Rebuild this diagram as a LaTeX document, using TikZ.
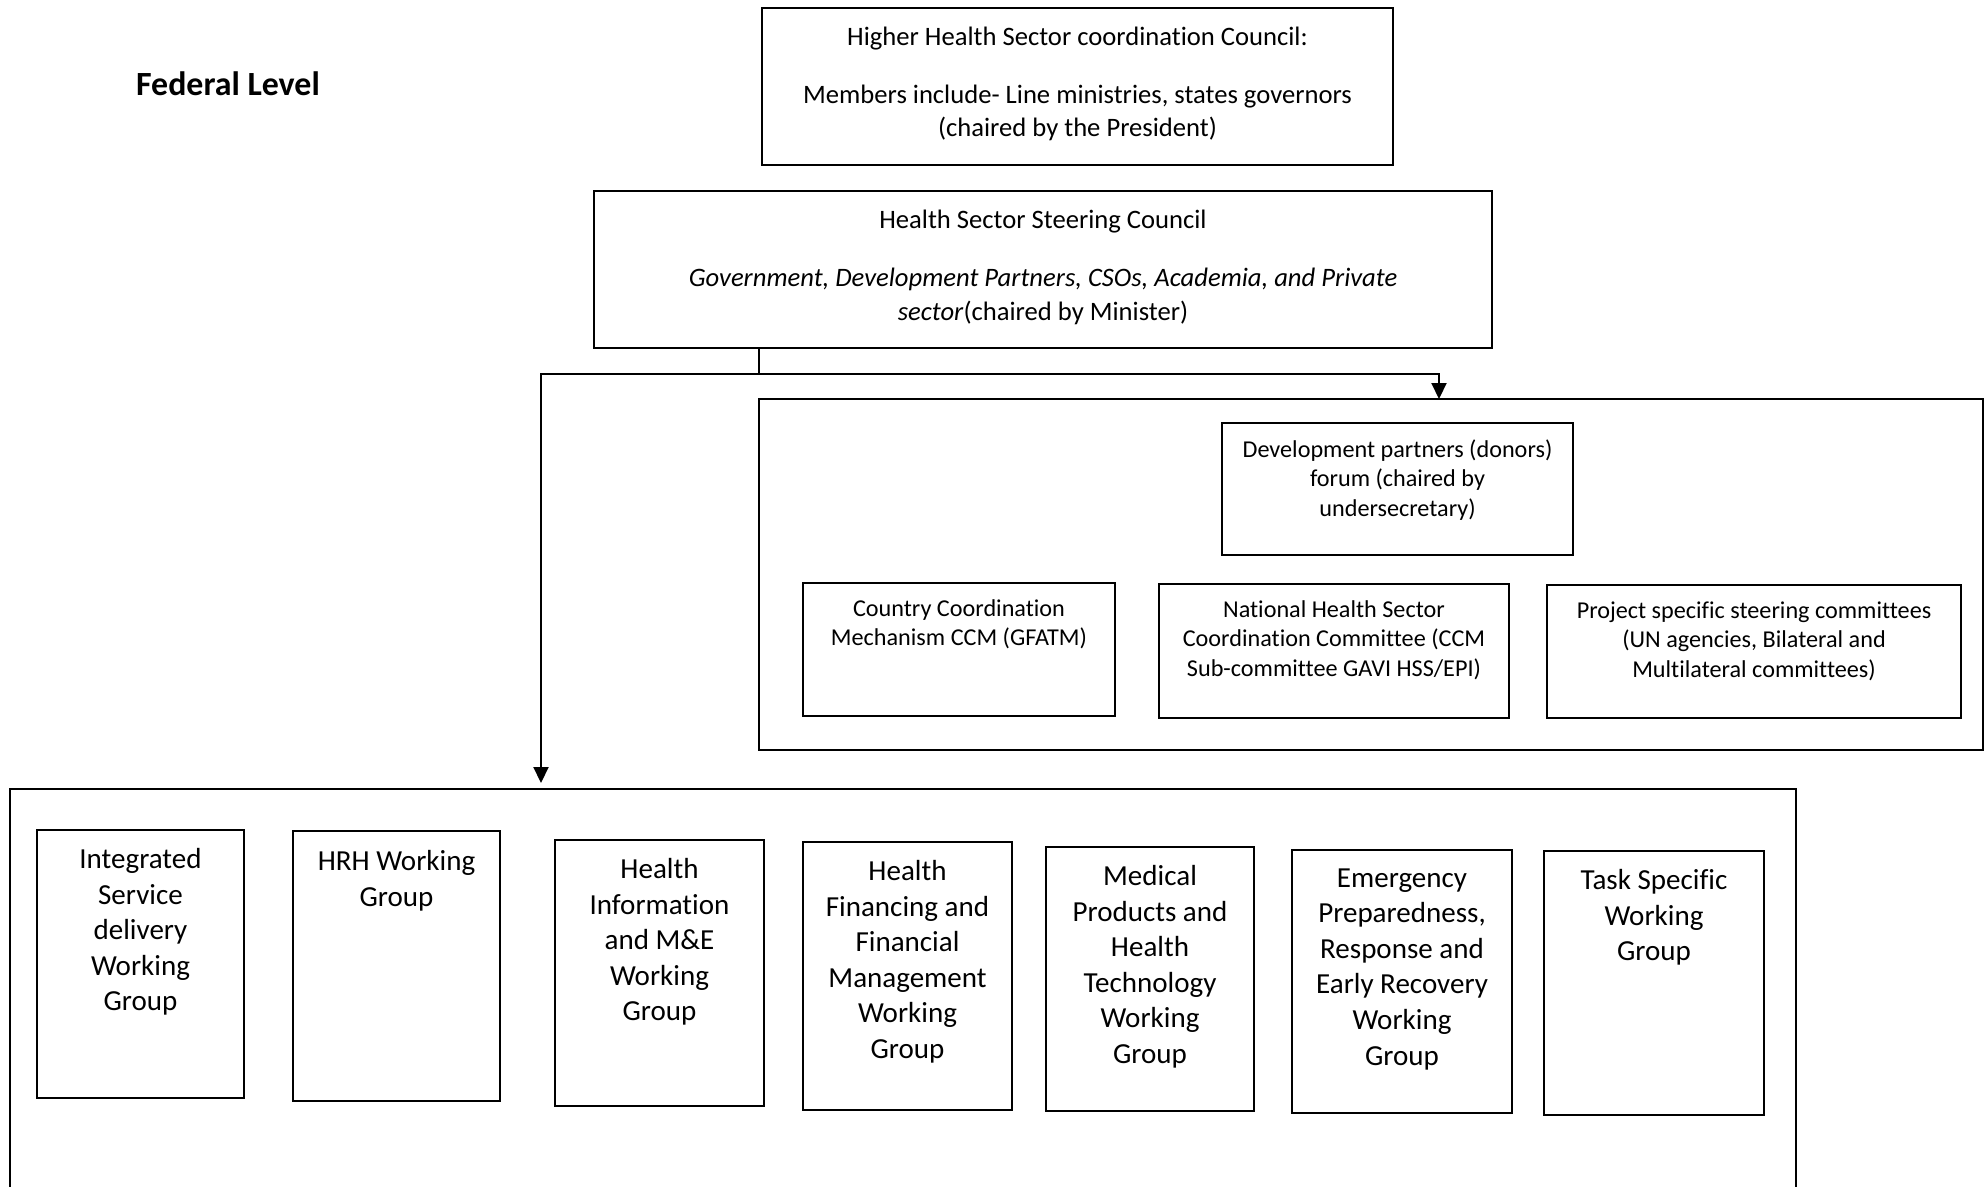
\documentclass[tikz,border=0pt]{standalone}
\usepackage{fontspec}
\setmainfont[Ligatures=NoCommon]{Carlito}
\usepackage{tikz}
\usetikzlibrary{arrows.meta, positioning, calc}
\newlength{\pxunit}
\setlength{\pxunit}{0.4132pt}

\begin{document}
\begin{tikzpicture}[x=\pxunit, y=-\pxunit]
    % Styles
    \tikzstyle{group} = [rectangle, draw=black, line width=0.8pt, inner sep=0pt, outer sep=0pt, anchor=north west]
    \tikzstyle{counciltext} = [anchor=north, align=center, inner sep=0pt, font=\fontsize{11}{13.5}\selectfont]
    \tikzstyle{smalltext} = [anchor=north, align=center, inner sep=0pt, font=\fontsize{10}{12.2}\selectfont]
    \tikzstyle{wgtext} = [anchor=north, align=center, inner sep=0pt, font=\fontsize{12}{14.7}\selectfont]
    \tikzstyle{level} = [font=\fontsize{14}{17}\selectfont\bfseries]
    \tikzstyle{arrow} = [line width=0.8pt, -{Triangle[length=6.6pt, width=6.2pt]}]
    \tikzset{wh/.style 2 args={minimum width=#1*\pxunit, minimum height=#2*\pxunit}}

    \useasboundingbox (0,0) rectangle (1986,1186);
    \clip (0,0) rectangle (1986,1186);

    % Councils
    \node (fed) [level] at (228,84) {Federal Level};
    \node (higher) [group, wh={631}{157}] at (762,8) {};
    \node (steer) [group, wh={898}{157}] at (594,191) {};
    \node (highertext) [counciltext] at ($(higher.north)+(0,18.5)$) {Higher Health Sector coordination Council:\\[10.5pt]Members include- Line ministries, states governors\\(chaired by the President)};
    \node (steertext) [counciltext] at ($(steer.north)+(0,18.5)$) {Health Sector Steering Council\\[10.5pt]\textit{Government, Development Partners, CSOs, Academia, and Private}\\[0.6pt]\textit{sector}(chaired by Minister)};

    % Partners
    \node (partners) [group, wh={1224}{351}] at (759,399) {};
    \node (donors) [group, wh={351}{132}] at (1222,423) {};
    \node (ccm) [group, wh={312}{133}] at (803,583) {};
    \node (nhscc) [group, wh={350}{134}] at (1159,584) {};
    \node (project) [group, wh={414}{133}] at (1547,585) {};
    \node (donorstext) [smalltext] at ($(donors.north)+(0,16)$) {Development partners (donors)\\forum (chaired by\\undersecretary)};
    \node (ccmtext) [smalltext] at ($(ccm.north)+(0,16)$) {Country Coordination\\Mechanism CCM (GFATM)};
    \node (nhscctext) [smalltext] at ($(nhscc.north)+(0,16)$) {National Health Sector\\Coordination Committee (CCM\\Sub-committee GAVI HSS/EPI)};
    \node (projecttext) [smalltext] at ($(project.north)+(0,16)$) {Project specific steering committees\\(UN agencies, Bilateral and\\Multilateral committees)};

    % Working groups
    \node (groups) [group, wh={1786}{480}] at (10,789) {};
    \node (wg1) [group, wh={207}{268}] at (37,830) {};
    \node (wg2) [group, wh={207}{270}] at (293,831) {};
    \node (wg3) [group, wh={209}{266}] at (555,840) {};
    \node (wg4) [group, wh={209}{268}] at (803,842) {};
    \node (wg5) [group, wh={208}{264}] at (1046,847) {};
    \node (wg6) [group, wh={220}{263}] at (1292,850) {};
    \node (wg7) [group, wh={220}{264}] at (1544,851) {};
    \node (wg1text) [wgtext] at ($(wg1.north)+(0,18)$) {Integrated\\Service\\delivery\\Working\\Group};
    \node (wg2text) [wgtext] at ($(wg2.north)+(0,19)$) {HRH Working\\Group};
    \node (wg3text) [wgtext] at ($(wg3.north)+(0,18)$) {Health\\Information\\and M\&E\\Working\\Group};
    \node (wg4text) [wgtext] at ($(wg4.north)+(0,18)$) {Health\\Financing and\\Financial\\Management\\Working\\Group};
    \node (wg5text) [wgtext] at ($(wg5.north)+(0,18)$) {Medical\\Products and\\Health\\Technology\\Working\\Group};
    \node (wg6text) [wgtext] at ($(wg6.north)+(0,18)$) {Emergency\\Preparedness,\\Response and\\Early Recovery\\Working\\Group};
    \node (wg7text) [wgtext] at ($(wg7.north)+(0,18)$) {Task Specific\\Working\\Group};

    % Arrows
    \coordinate (split) at (759,374);
    \coordinate (leftend) at (541,783);
    \coordinate (rightend) at (1439,399);
    \draw [line width=0.8pt] (steer.south -| split) -- (split);
    \draw [arrow] (split) -| (leftend);
    \draw [arrow] (split) -| (rightend);
\end{tikzpicture}
\end{document}
